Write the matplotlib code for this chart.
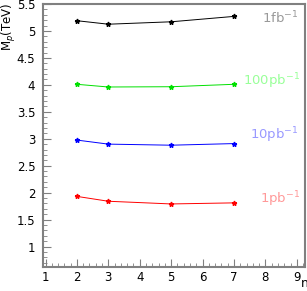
import numpy as np
import matplotlib
matplotlib.use("Agg")
import matplotlib.pyplot as plt
from matplotlib.ticker import MultipleLocator

n = [2, 3, 5, 7]
mp_1fb = [5.19, 5.125, 5.17, 5.27]
mp_100pb = [4.01, 3.96, 3.965, 4.01]
mp_10pb = [2.975, 2.90, 2.88, 2.91]
mp_1pb = [1.93, 1.84, 1.79, 1.81]

labels = ["1fb$^{-1}$", "100pb$^{-1}$", "10pb$^{-1}$", "1pb$^{-1}$"]
series = [mp_1fb, mp_100pb, mp_10pb, mp_1pb]
linecols = ["black", "#00e000", "blue", "red"]
textcols = ["#999999", "#99ff99", "#9999ff", "#ff9999"]
textpos = [(7.88, 5.24), (7.28, 4.07), (7.5, 3.07), (7.82, 1.875)]

fig = plt.figure(figsize=(3.07, 2.91), dpi=100)
ax = fig.add_axes([43/307, 1 - 267/291, 262/307, 263/291])

for y, c in zip(series, linecols):
	ax.plot(n, y, "-", color=c, lw=0.7, marker="*", ms=3.5)

for lab, c, (tx, ty) in zip(labels, textcols, textpos):
	ax.text(tx, ty, lab, color=c, fontsize=9.5, va="center", ha="left")

ax.set_xlim(0.92, 9.26)
ax.set_ylim(0.62, 5.5)
ax.xaxis.set_major_locator(MultipleLocator(1))
ax.xaxis.set_minor_locator(MultipleLocator(0.2))
ax.yaxis.set_minor_locator(MultipleLocator(0.1))
ax.set_yticks([1, 1.5, 2, 2.5, 3, 3.5, 4, 4.5, 5, 5.5])
ax.set_yticklabels(["1", "1.5", "2", "2.5", "3", "3.5", "4", "4.5", "5", "5.5"])
ax.tick_params(direction="in", which="both", color="#808080", labelsize=8.5)
ax.tick_params(which="major", length=6)
ax.tick_params(which="minor", length=3)
ax.tick_params(axis="y", pad=5.5)
ax.tick_params(axis="x", pad=3)
for s in ax.spines.values():
	s.set_color("#808080")
	s.set_linewidth(1.5)

fig.text(0, 1 - 3/291, "M$_p$(TeV)", rotation=90, ha="left", va="top", fontsize=8.5)
fig.text(300.5/307, 1 - 290/291, "n", ha="left", va="bottom", fontsize=9)

fig.savefig("out.png", dpi=100)
